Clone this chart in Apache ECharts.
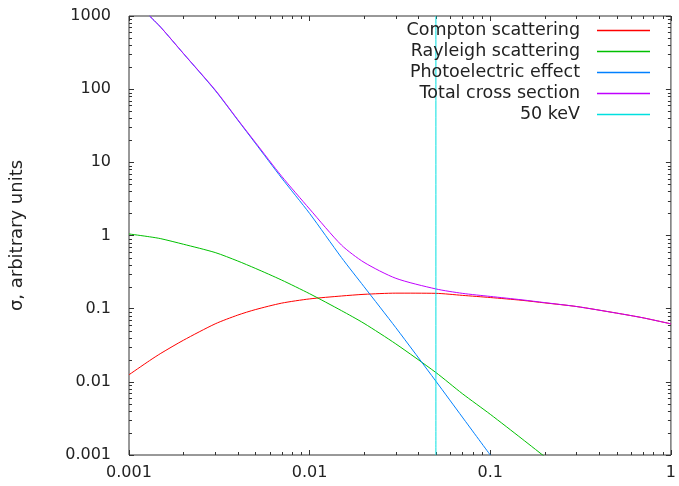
<!DOCTYPE html>
<html>
<head>
<meta charset="utf-8">
<script src="https://cdn.jsdelivr.net/npm/echarts@6/dist/echarts.min.js"></script>
<style>
  html, body { margin: 0; padding: 0; background: #fff; }
  #main { width: 679px; height: 486px; }
</style>
</head>
<body>
<div id="main"></div>
<script>
// energy axis (shared by all curves)
const energy = [0.001, 0.0013, 0.0015, 0.002, 0.003, 0.004, 0.005, 0.007, 0.01, 0.015, 0.02,
                0.03, 0.05, 0.07, 0.1, 0.15, 0.2, 0.3, 0.5, 0.7, 1]
const compton = [0.0125, 0.0195, 0.0245, 0.037, 0.062, 0.0817, 0.097, 0.119, 0.136, 0.149, 0.157,
                 0.163, 0.162, 0.152, 0.142, 0.13, 0.12, 0.107, 0.087, 0.075, 0.062]
const rayleigh = [1.05, 0.96, 0.905, 0.76, 0.585, 0.448, 0.356, 0.246, 0.16, 0.094, 0.063,
                  0.033, 0.0134, 0.0069, 0.0036, 0.00166, 0.00095, null, null, null, null]
const photo = [null, 1000, 700, 307, 96, 37.8, 18.3, 6.1, 2.0, 0.5, 0.2,
               0.055, 0.0102, 0.0033, 0.001, null, null, null, null, null, null]
const total = [null, 1000, 700, 308, 97.5, 38.3, 18.8, 6.45, 2.3, 0.74, 0.43,
               0.26, 0.186, 0.162, 0.147, 0.132, 0.121, 0.107, 0.087, 0.075, 0.062]
const marker = 0.05   // 50 keV

const names = ['Compton scattering', 'Rayleigh scattering', 'Photoelectric effect', 'Total cross section', '50 keV']
const colors = ['#ff0000', '#00c000', '#0080ff', '#c000ff', '#00e0e0']

const xRange = [0.001, 1]
const yRange = [0.001, 1000]

// minor tick positions 2..9 of each decade
function minors(lo, hi) {
  let out = []
  for (let d = lo; d < hi; d *= 10) {
    for (let k = 2; k <= 9; k++) out.push(+(k * d).toPrecision(3))
  }
  return out
}
const minorX = minors(xRange[0], xRange[1])
const minorY = minors(yRange[0], yRange[1])

function pairs(arr) {
  return energy.map((e, i) => [e, arr[i]])
}

const font = 'DejaVu Sans'
const ink = '#333'

let myChart = echarts.init(document.getElementById('main'))

function tickRender(isX) {
  return function (params, api) {
    const cs = params.coordSys
    const p = api.coord([api.value(0), api.value(1)])
    const len = 3
    const st = { stroke: ink, lineWidth: 1 }
    if (isX) {
      const x = Math.round(p[0]) + 0.5
      return { type: 'group', children: [
        { type: 'line', shape: { x1: x, y1: cs.y + cs.height, x2: x, y2: cs.y + cs.height - len }, style: st },
        { type: 'line', shape: { x1: x, y1: cs.y, x2: x, y2: cs.y + len }, style: st }
      ] }
    }
    const y = Math.round(p[1]) + 0.5
    return { type: 'group', children: [
      { type: 'line', shape: { x1: cs.x, y1: y, x2: cs.x + len, y2: y }, style: st },
      { type: 'line', shape: { x1: cs.x + cs.width, y1: y, x2: cs.x + cs.width - len, y2: y }, style: st }
    ] }
  }
}

function lineSeries(name, data, color) {
  return {
    name: name,
    type: 'line',
    data: data,
    symbol: 'none',
    smooth: 0.25,
    clip: true,
    color: color,
    lineStyle: { color: color, width: 1 },
    animation: false
  }
}

function logLabel(v) {
  return String(+Number(v).toPrecision(6))
}

const xAxisBase = {
  type: 'log',
  logBase: 10,
  min: xRange[0],
  max: xRange[1],
  splitNumber: 3,
  splitLine: { show: false },
  axisLine: { show: false },
  axisTick: { show: true, inside: true, length: 5, lineStyle: { color: ink } }
}
const yAxisBase = {
  type: 'log',
  logBase: 10,
  min: yRange[0],
  max: yRange[1],
  splitNumber: 6,
  splitLine: { show: false },
  axisLine: { show: false },
  axisTick: { show: true, inside: true, length: 5, lineStyle: { color: ink } }
}

let option = {
  backgroundColor: '#fff',
  animation: false,
  textStyle: { fontFamily: font },
  grid: {
    left: 129, right: 7, top: 16, bottom: 31,
    show: true, borderColor: ink, borderWidth: 1, backgroundColor: 'transparent'
  },
  legend: {
    data: names,
    orient: 'vertical',
    right: 24,
    top: 15,
    align: 'right',
    icon: 'rect',
    itemWidth: 53,
    itemHeight: 1.5,
    itemGap: 0,
    textStyle: { fontFamily: font, fontSize: 17.5, color: '#222', lineHeight: 21, padding: [0, 12, 0, 0] }
  },
  xAxis: [
    Object.assign({}, xAxisBase, {
      position: 'bottom',
      axisLabel: { fontFamily: font, fontSize: 16, color: '#222', margin: 10, formatter: logLabel }
    }),
    Object.assign({}, xAxisBase, { position: 'top', axisLabel: { show: false } })
  ],
  yAxis: [
    Object.assign({}, yAxisBase, {
      position: 'left',
      name: 'σ, arbitrary units',
      nameLocation: 'middle',
      nameGap: 103,
      nameTextStyle: { fontFamily: font, fontSize: 18, color: '#222' },
      axisLabel: { fontFamily: font, fontSize: 16, color: '#222', margin: 18, formatter: logLabel }
    }),
    Object.assign({}, yAxisBase, { position: 'right', axisLabel: { show: false } })
  ],
  series: [
    lineSeries(names[0], pairs(compton), colors[0]),
    lineSeries(names[1], pairs(rayleigh), colors[1]),
    lineSeries(names[2], pairs(photo), colors[2]),
    lineSeries(names[3], pairs(total), colors[3]),
    lineSeries(names[4], [[marker, yRange[0]], [marker, yRange[1]]], colors[4]),
    {
      type: 'custom',
      silent: true,
      renderItem: tickRender(true),
      data: minorX.map(v => [v, 1])
    },
    {
      type: 'custom',
      silent: true,
      renderItem: tickRender(false),
      data: minorY.map(v => [0.01, v])
    }
  ]
}
myChart.setOption(option)
</script>
</body>
</html>
